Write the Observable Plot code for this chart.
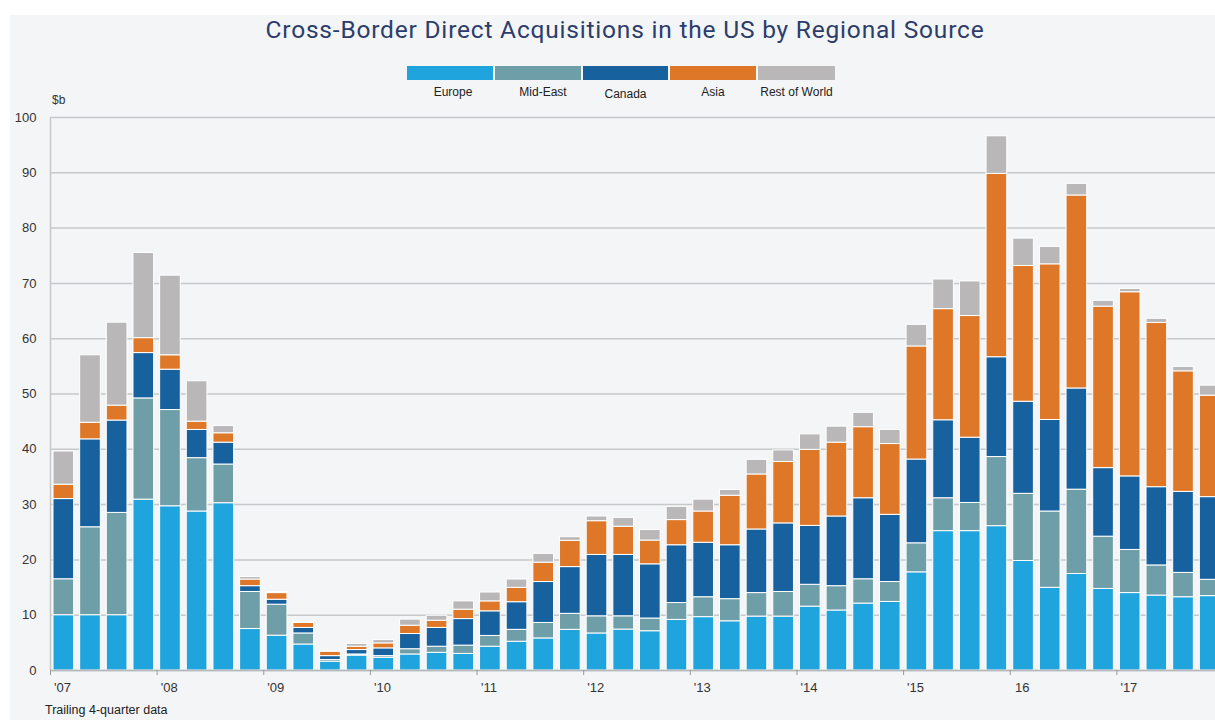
<!DOCTYPE html>
<html><head><meta charset="utf-8">
<script src="https://cdn.jsdelivr.net/npm/d3@7"></script>
<script src="https://cdn.jsdelivr.net/npm/@observablehq/plot@0.6"></script>
<style>
html,body{margin:0;padding:0;background:#fff;overflow:hidden;width:1215px;height:720px;}
#panel{position:absolute;left:10px;top:15px;width:1205px;height:705px;background:#f3f5f7;}
#title{position:absolute;left:0;top:15px;width:1250px;text-align:center;font-family:Roboto,"Liberation Sans",sans-serif;font-size:24.5px;letter-spacing:0.8px;color:#2c3d6c;}
#legend{position:absolute;left:407px;top:66px;display:flex;gap:2px;}
.item{display:flex;flex-direction:column;align-items:center;}
.sw{height:14px;}
.lab{font-family:"Liberation Sans",Arial,sans-serif;font-size:12px;color:#222;margin-top:5px;white-space:nowrap;}
#unit{position:absolute;left:52px;top:93px;font-family:"Liberation Sans",Arial,sans-serif;font-size:12px;color:#333;}
#chart{position:absolute;left:0;top:100px;width:1230px;}
#chart svg{max-width:none;}
#caption{position:absolute;left:45px;top:703px;font-family:"Liberation Sans",Arial,sans-serif;font-size:12.5px;color:#222;}
</style></head>
<body>
<div id="panel"></div>
<div id="title">Cross-Border Direct Acquisitions in the US by Regional Source</div>
<div id="legend"></div>
<div id="unit">$b</div>
<div id="chart"></div>
<div id="caption">Trailing 4-quarter data</div>
<script>
const series = ["Europe", "Mid-East", "Canada", "Asia", "Rest of World"];
const colors = ["#1fa4dd", "#6e9ea7", "#17629e", "#de7828", "#b9b7b8"];
const years = [2007, 2008, 2009, 2010, 2011, 2012, 2013, 2014, 2015, 2016, 2017];
const yearLabels = ["'07", "'08", "'09", "'10", "'11", "'12", "'13", "'14", "'15", "16", "'17"];
const yTicks = [0, 10, 20, 30, 40, 50, 60, 70, 80, 90, 100];
const quarters = [
  "2007Q1","2007Q2","2007Q3","2007Q4","2008Q1","2008Q2","2008Q3","2008Q4",
  "2009Q1","2009Q2","2009Q3","2009Q4","2010Q1","2010Q2","2010Q3","2010Q4",
  "2011Q1","2011Q2","2011Q3","2011Q4","2012Q1","2012Q2","2012Q3","2012Q4",
  "2013Q1","2013Q2","2013Q3","2013Q4","2014Q1","2014Q2","2014Q3","2014Q4",
  "2015Q1","2015Q2","2015Q3","2015Q4","2016Q1","2016Q2","2016Q3","2016Q4",
  "2017Q1","2017Q2","2017Q3","2017Q4"];
const europe = [10,10,10,30.9, 29.7,28.75,30.25,7.5, 6.3,4.7,1.6,2.7, 2.3,2.9,3.2,3.0, 4.3,5.2,5.8,7.35, 6.7,7.4,7.1,9.15, 9.65,8.9,9.75,9.75, 11.55,10.85,12.1,12.4, 17.75,25.2,25.2,26.1, 19.8,14.95,17.45,14.75, 14.0,13.55,13.25,13.45];
const midEast = [6.5,15.9,18.5,18.3, 17.4,9.65,7.0,6.7, 5.6,2.0,0.3,0.2, 0.3,0.95,1.1,1.5, 1.95,2.15,2.8,2.9, 3.1,2.4,2.3,3.05, 3.6,4.0,4.25,4.45, 3.95,4.4,4.4,3.6, 5.25,5.95,5.1,12.5, 12.15,13.8,15.25,9.45, 7.8,5.45,4.4,2.95];
const canada = [14.5,15.9,16.7,8.2, 7.3,5.1,3.95,1.05, 0.9,1.0,0.7,0.8, 1.4,2.75,3.4,4.8, 4.45,5.0,7.4,8.45, 11.1,11.1,9.8,10.45, 9.85,9.75,11.5,12.4, 10.65,12.6,14.65,12.15, 15.15,14.1,11.8,18.05, 16.65,16.55,18.3,12.4, 13.3,14.15,14.65,14.95];
const asia = [2.6,3.0,2.7,2.7, 2.6,1.5,1.7,1.2, 1.2,0.9,0.8,0.6, 0.9,1.5,1.3,1.7, 1.8,2.6,3.5,4.75, 6.1,5.1,4.3,4.55, 5.65,8.95,9.95,11.1, 13.75,13.35,12.85,12.8, 20.45,20.1,22.0,33.15, 24.55,28.15,34.9,29.2, 33.3,29.7,21.8,18.35];
const restOfWorld = [6.0,12.2,15.0,15.4, 14.4,7.3,1.3,0.45, 0.2,0.1,0.1,0.5, 0.6,1.1,0.9,1.5, 1.6,1.5,1.6,0.65, 0.85,1.6,1.9,2.4, 2.15,1.05,2.65,2.1, 2.8,2.9,2.6,2.55, 3.9,5.35,6.25,6.8, 4.95,3.15,2.1,1.05, 0.6,0.75,0.8,1.8];

const seriesValues = [europe, midEast, canada, asia, restOfWorld];
const data = [];
quarters.forEach((q, i) => {
  const t = +q.slice(0, 4) + (+q.slice(5) - 1) / 4;
  series.forEach((s, k) => data.push({quarter: q, t, series: s, value: seriesValues[k][i]}));
});

// legend
const legendWidths = [86, 86, 85, 86, 77];
const legendLabelNudge = [[3,0],[5,0],[0,2],[0,0],[0,0]];
const leg = document.getElementById("legend");
series.forEach((s, k) => {
  const it = document.createElement("div"); it.className = "item";
  const sw = document.createElement("div"); sw.className = "sw";
  sw.style.width = legendWidths[k] + "px"; sw.style.background = colors[k];
  const lb = document.createElement("div"); lb.className = "lab"; lb.textContent = s;
  lb.style.transform = `translate(${legendLabelNudge[k][0]}px,${legendLabelNudge[k][1]}px)`;
  it.appendChild(sw); it.appendChild(lb); leg.appendChild(it);
});

const chart = Plot.plot({
  width: 1230, height: 600,
  marginLeft: 50, marginRight: 7, marginTop: 17, marginBottom: 30,
  style: {background: "transparent", fontFamily: "'Liberation Sans', Arial, sans-serif", fontSize: "13px", color: "#333"},
  x: {domain: [2007, 2018]},
  y: {domain: [0, 100]},
  color: {domain: series, range: colors},
  marks: [
    Plot.gridY({ticks: yTicks, stroke: "#c6c8ca", strokeOpacity: 1, strokeWidth: 1.5}),
    Plot.rectY(data, {x1: "t", x2: d => d.t + 0.25, y: "value", fill: "series", insetLeft: 3, insetRight: 3, stroke: "#ffffff", strokeWidth: 1}),
    Plot.ruleX([2007], {stroke: "#c6c8ca", strokeWidth: 1.5}),
    Plot.ruleY([0], {stroke: "#b5b7b9", strokeWidth: 1.5}),
    Plot.axisY({ticks: yTicks, tickSize: 0, tickPadding: 14, label: null, fill: "#333"}),
    Plot.axisX({ticks: years, tickSize: 5, tickFormat: () => "", label: null, stroke: "#999"}),
    Plot.axisX({ticks: years, tickSize: 0, tickPadding: 12, tickFormat: d => yearLabels[years.indexOf(d)], dx: 12, label: null, fill: "#333"})
  ]
});
document.getElementById("chart").appendChild(chart);
</script>
</body></html>
